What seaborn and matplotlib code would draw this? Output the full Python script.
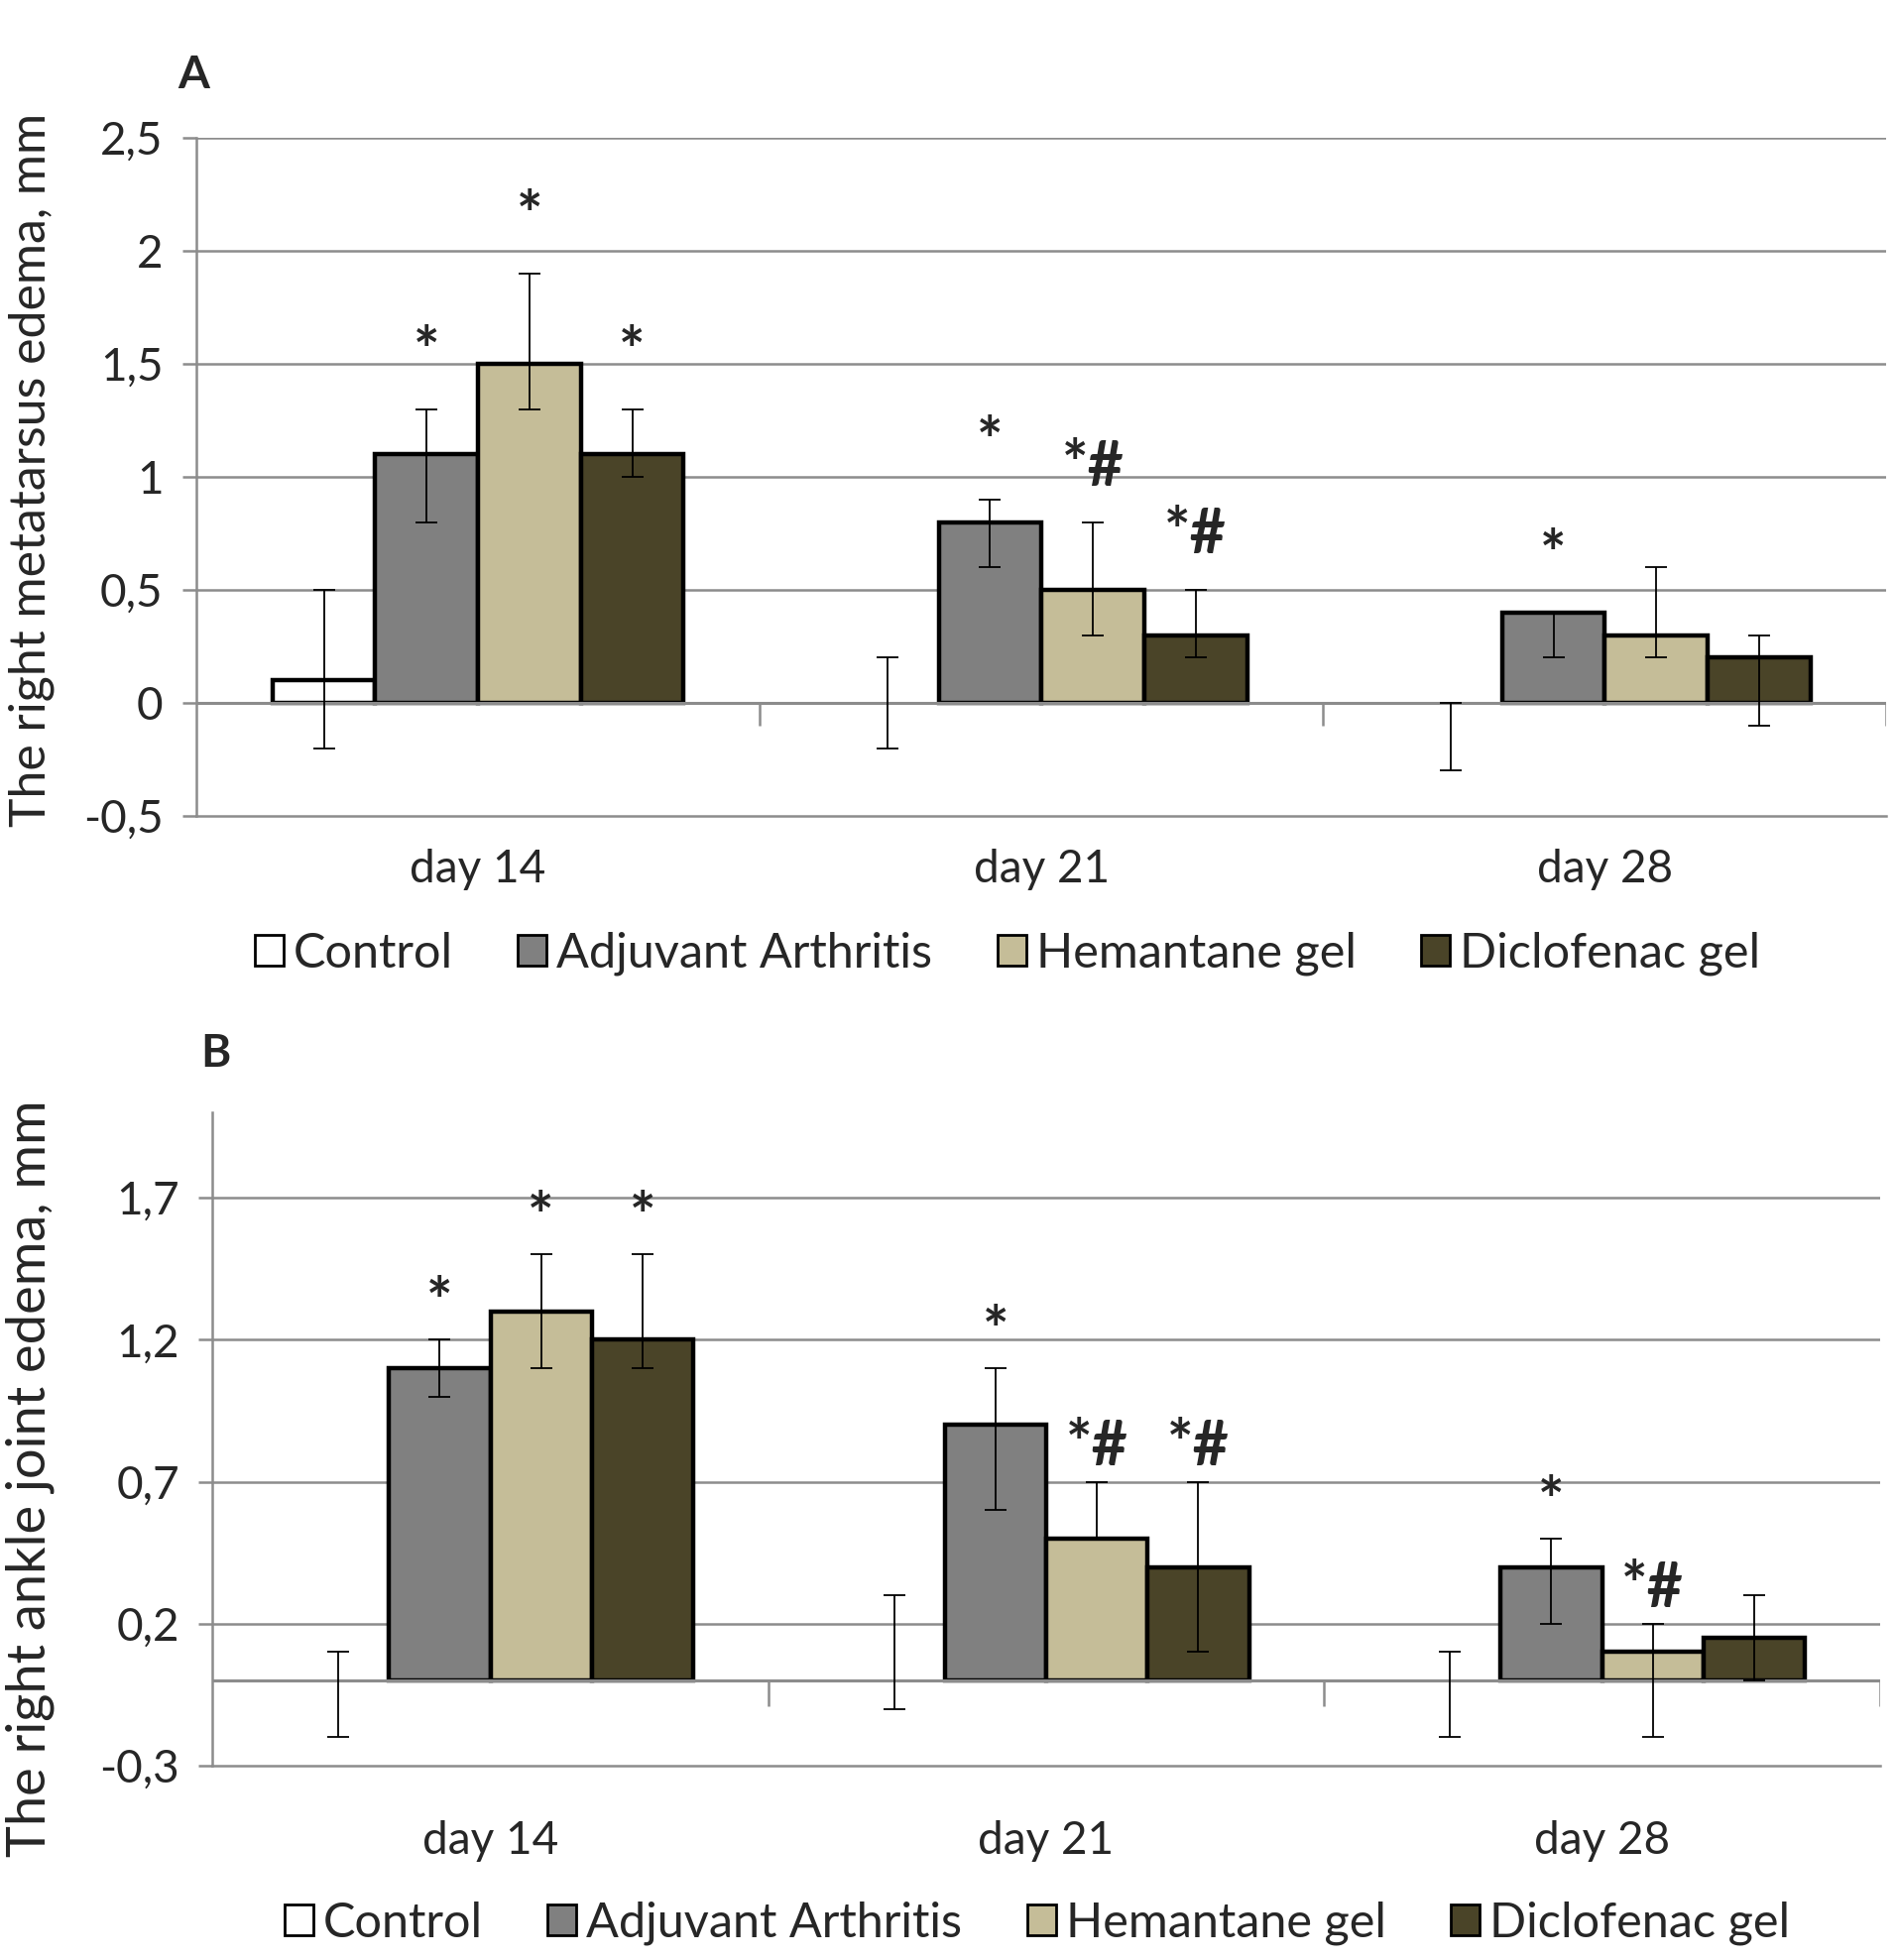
import numpy as np
import pandas as pd
import seaborn as sns
import matplotlib.pyplot as plt
from matplotlib.patches import Patch

days = ['day 14', 'day 21', 'day 28']
groups = ['Control', 'Adjuvant Arthritis', 'Hemantane gel', 'Diclofenac gel']
colors = ['#ffffff', '#808080', '#c5bd98', '#4a4428']

# panel A - metatarsus edema (mean, lower err, upper err, marks)
a_control = [0.1, 0.0, 0.0]
a_adjuvant = [1.1, 0.8, 0.4]
a_hemantane = [1.5, 0.5, 0.3]
a_diclofenac = [1.1, 0.3, 0.2]
a_lo = [[0.3, 0.2, 0.3], [0.3, 0.2, 0.2], [0.2, 0.2, 0.1], [0.1, 0.1, 0.3]]
a_hi = [[0.4, 0.2, 0.0], [0.2, 0.1, 0.0], [0.4, 0.3, 0.3], [0.2, 0.2, 0.1]]
a_marks = [['', '', ''], ['*', '*', '*'], ['*', '*#', ''], ['*', '*#', '']]
a_ticks = [-0.5, 0, 0.5, 1, 1.5, 2, 2.5]
a_ticklabels = ['-0,5', '0', '0,5', '1', '1,5', '2', '2,5']

# panel B - ankle joint edema
b_control = [0.0, 0.0, 0.0]
b_adjuvant = [1.1, 0.9, 0.4]
b_hemantane = [1.3, 0.5, 0.1]
b_diclofenac = [1.2, 0.4, 0.15]
b_lo = [[0.2, 0.1, 0.2], [0.1, 0.3, 0.2], [0.2, 0.0, 0.3], [0.1, 0.3, 0.15]]
b_hi = [[0.1, 0.3, 0.1], [0.1, 0.2, 0.1], [0.2, 0.2, 0.1], [0.3, 0.3, 0.15]]
b_marks = [['', '', ''], ['*', '*', '*'], ['*', '*#', '*#'], ['*', '*#', '']]
b_ticks = [-0.3, 0.2, 0.7, 1.2, 1.7]
b_ticklabels = ['-0,3', '0,2', '0,7', '1,2', '1,7']

sns.set_style("white")
plt.rcParams['font.family'] = ['Lato', 'DejaVu Sans']
FS = 33
grid_c = '#8c8c8c'


def panel(ax, values, lo, hi, marks, ticks, ticklabels, ylim, ylabel, ylab_fs, ylab_pos,
          mark_pad, tick_len, xpad):
    df = pd.DataFrame({'day': np.repeat([days], 4, axis=0).ravel(),
                       'group': np.repeat(groups, 3),
                       'value': np.concatenate(values)})
    sns.barplot(data=df, x='day', y='value', hue='group', hue_order=groups, order=days,
                palette=colors, saturation=1, width=0.73, errorbar=None, legend=False,
                edgecolor='black', linewidth=3.2, ax=ax, zorder=3)
    ax.set_ylim(*ylim)
    ax.set_xlim(-0.5, 2.5)
    for val in ticks[1:]:
        ax.axhline(val, color=grid_c, lw=1.8, zorder=1)
    ax.axhline(0, color=grid_c, lw=2.2, zorder=4)
    ax.vlines([0.5, 1.5, 2.5], -tick_len, 0, color=grid_c, lw=1.8, zorder=4)
    bars = list(ax.containers)
    for i, cont in enumerate(bars):
        for j, p in enumerate(cont.patches):
            if p.get_height() == 0:
                p.set_linewidth(0)
            x = p.get_x() + p.get_width() / 2
            y = values[i][j]
            ax.errorbar(x, y, yerr=[[lo[i][j]], [hi[i][j]]], fmt='none', ecolor='black',
                        elinewidth=1.3, capsize=8, capthick=1.3, zorder=5)
            if marks[i][j]:
                ax.text(x, y + hi[i][j] + mark_pad, marks[i][j], ha='center', va='center',
                        fontsize=45, fontweight='bold', zorder=6)
    sns.despine(ax=ax, top=True, right=True)
    ax.spines['left'].set_color(grid_c)
    ax.spines['left'].set_linewidth(1.8)
    ax.spines['bottom'].set_color(grid_c)
    ax.spines['bottom'].set_linewidth(1.8)
    ax.set_yticks(ticks)
    ax.set_yticklabels(ticklabels)
    ax.tick_params(axis='y', left=True, length=10, width=1.8, color=grid_c, labelsize=FS, pad=14)
    ax.tick_params(axis='x', bottom=False, labelsize=FS, pad=xpad)
    ax.set_xlabel('')
    ax.set_ylabel(ylabel, fontsize=ylab_fs)
    ax.yaxis.set_label_coords(*ylab_pos)


fig = plt.figure(figsize=(19.13, 19.77), dpi=100)
ax_a = fig.add_axes([0.1035, 0.5837, 0.891, 0.346])
ax_b = fig.add_axes([0.112, 0.0991, 0.879, 0.3333])

panel(ax_a, [a_control, a_adjuvant, a_hemantane, a_diclofenac], a_lo, a_hi, a_marks,
      a_ticks, a_ticklabels, (-0.5, 2.5), 'The right metatarsus edema, mm', 36, (-0.084, 0.51),
      0.24, 0.1, 20)
panel(ax_b, [b_control, b_adjuvant, b_hemantane, b_diclofenac], b_lo, b_hi, b_marks,
      b_ticks, b_ticklabels, (-0.3, 2.0), 'The right ankle joint edema, mm', 39, (-0.095, 0.44),
      0.12, 0.09, 36)

handles = [Patch(facecolor=c, edgecolor='black', linewidth=2) for c in colors]
for yy, xx in [(1 - 962 / 1977, 1016 / 1913), (1 - 1940 / 1977, 1046 / 1913)]:
    fig.legend(handles, groups, loc='center', bbox_to_anchor=(xx, yy), ncol=4, frameon=False,
               fontsize=35, handlelength=0.6, handleheight=0.6, handletextpad=0.2,
               columnspacing=1.35)

fig.text(195 / 1913, 1 - 76 / 1977, 'A', fontsize=FS, fontweight='bold', va='center', ha='center')
fig.text(217 / 1913, 1 - 1063 / 1977, 'B', fontsize=FS, fontweight='bold', va='center', ha='center')

fig.savefig('out.png', dpi=100)
